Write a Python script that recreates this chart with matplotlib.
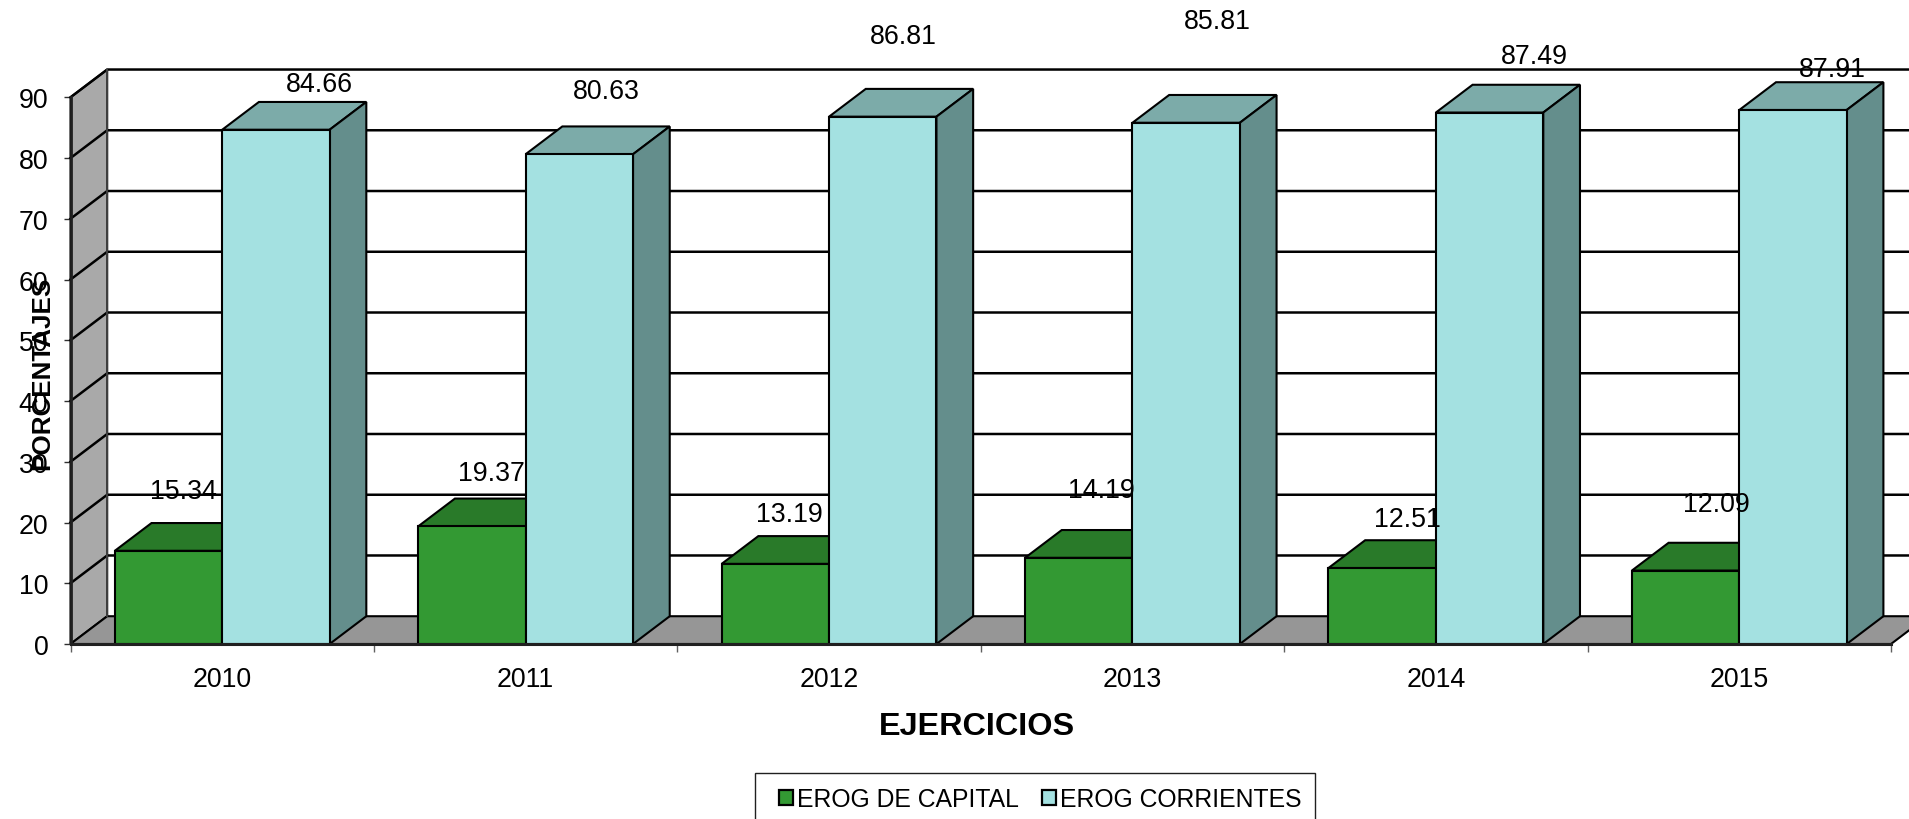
import matplotlib
matplotlib.use("Agg")
import matplotlib.pyplot as plt
from matplotlib.patches import Polygon, Patch, Rectangle

plt.rcParams['font.family'] = ['Liberation Sans', 'DejaVu Sans']

years = ['2010', '2011', '2012', '2013', '2014', '2015']
capital = [15.34, 19.37, 13.19, 14.19, 12.51, 12.09]
corrientes = [84.66, 80.63, 86.81, 85.81, 87.49, 87.91]
y_ticks = [0, 10, 20, 30, 40, 50, 60, 70, 80, 90]
series_names = ['EROG DE CAPITAL', 'EROG CORRIENTES']

# label offsets from the top-centre of each bar, in pixels
capital_offsets = [(15, 60), (20, 53), (14, 50), (23, 68), (25, 49), (31, 67)]
corrientes_offsets = [(43, 46), (27, 63), (21, 81), (31, 102), (45, 57), (39, 41)]

W, H = 1909, 820
DX, DY = 36.7 / 303.4, 27.8 / 6.08   # 3D depth in data units
BW = 107.4 / 303.4
LW = 1.5
FS = 19.3

C_GREEN = ('#339933', '#297A29', '#1F5C1F')
C_BLUE = ('#A4E1E1', '#7CABA9', '#648E8C')
C_WALL = '#A9A9A9'
C_FLOOR = '#969696'
C_EDGE = '#000000'

fig = plt.figure(figsize=(W / 100, H / 100), dpi=100, facecolor='white')
ax = fig.add_axes([70.5 / W, (H - 645) / H, (1891 - 70.5) / W, (645 - 98.3) / H])
ax.set_xlim(0, len(years))
ax.set_ylim(0, y_ticks[-1])
for s in ax.spines.values():
    s.set_visible(False)

n = len(years)
top = y_ticks[-1]


def poly(pts, fc, z):
    ax.add_patch(Polygon(pts, closed=True, facecolor=fc, edgecolor=C_EDGE,
                         linewidth=LW, joinstyle='miter', clip_on=False, zorder=z))


# walls and floor
poly([(0, 0), (DX, DY), (DX, top + DY), (0, top)], C_WALL, 1)
poly([(0, 0), (n, 0), (n + DX, DY), (DX, DY)], C_FLOOR, 1)

# gridlines on the back and side walls
for v in y_ticks[1:]:
    ax.plot([0, DX, n + DX], [v, v + DY, v + DY], color='black', lw=1.8,
            clip_on=False, zorder=2, solid_joinstyle='miter')
ax.plot([DX, DX], [DY, top + DY], color='#404040', lw=1.4, clip_on=False, zorder=2)
ax.plot([0, 0], [0, top], color='#202020', lw=2.0, clip_on=False, zorder=3)
ax.plot([0, n], [0, 0], color='#202020', lw=2.2, clip_on=False, zorder=30)


def bar3d(x0, v, colors, z):
    x1 = x0 + BW
    ax.bar(x0, v, width=BW, align='edge', facecolor=colors[0], edgecolor=C_EDGE,
           linewidth=LW, clip_on=False, zorder=z + 0.2)
    poly([(x0, v), (x0 + DX, v + DY), (x1 + DX, v + DY), (x1, v)], colors[1], z)
    poly([(x1, 0), (x1 + DX, DY), (x1 + DX, v + DY), (x1, v)], colors[2], z)


for i in range(n):
    c = i + 0.5
    bar3d(c - BW, capital[i], C_GREEN, 4 + 2 * i)
    bar3d(c, corrientes[i], C_BLUE, 5 + 2 * i)

# value labels
for i in range(n):
    c = i + 0.5
    for xc, v, off in ((c - BW / 2, capital[i], capital_offsets[i]),
                       (c + BW / 2, corrientes[i], corrientes_offsets[i])):
        ax.annotate(f'{v:.2f}', xy=(xc, v), xytext=off, textcoords='offset pixels',
                    ha='center', va='center', fontsize=FS, color='black',
                    annotation_clip=False, zorder=40)

# axes ticks
ax.set_yticks(y_ticks)
ax.tick_params(axis='y', length=5, width=1, color='#303030', pad=11, labelsize=FS)
ax.set_xticks(range(n + 1))
ax.set_xticklabels([])
ax.tick_params(axis='x', which='major', length=6, width=1, color='#606060')
ax.set_xticks([i + 0.5 for i in range(n)], minor=True)
ax.set_xticklabels(years, minor=True)
ax.tick_params(axis='x', which='minor', length=0, pad=16, labelsize=FS)

ax.set_xlabel('EJERCICIOS', fontsize=23.3, fontweight='bold', va='center')
ax.xaxis.set_label_coords((977 - 70.5) / (1891 - 70.5), -(727 - 645) / (645 - 98.3))
ax.set_ylabel('PORCENTAJES', fontsize=18.7, fontweight='bold', va='center')
ax.yaxis.set_label_coords(-(70.5 - 42) / (1891 - 70.5), (645 - 373) / (645 - 98.3))

# legend box runs past the bottom edge of the figure, as in the reference
fig.add_artist(Rectangle((755 / W, -10 / H), 560 / W, (H - 774 + 10) / H,
                         transform=fig.transFigure, facecolor='white',
                         edgecolor='#202020', linewidth=1.0))
handles = [Patch(facecolor=C_GREEN[0], edgecolor='black', linewidth=1.6),
           Patch(facecolor=C_BLUE[0], edgecolor='black', linewidth=1.6)]
leg = fig.legend(handles, series_names, ncols=2, loc='center left',
                 bbox_to_anchor=(779 / W, (H - 800) / H), fontsize=17.8,
                 frameon=False, handlelength=0.56, handleheight=0.56,
                 handletextpad=0.17, columnspacing=0.92, borderpad=0, borderaxespad=0)
leg.set_zorder(5)

fig.savefig('out.png', dpi=100)
